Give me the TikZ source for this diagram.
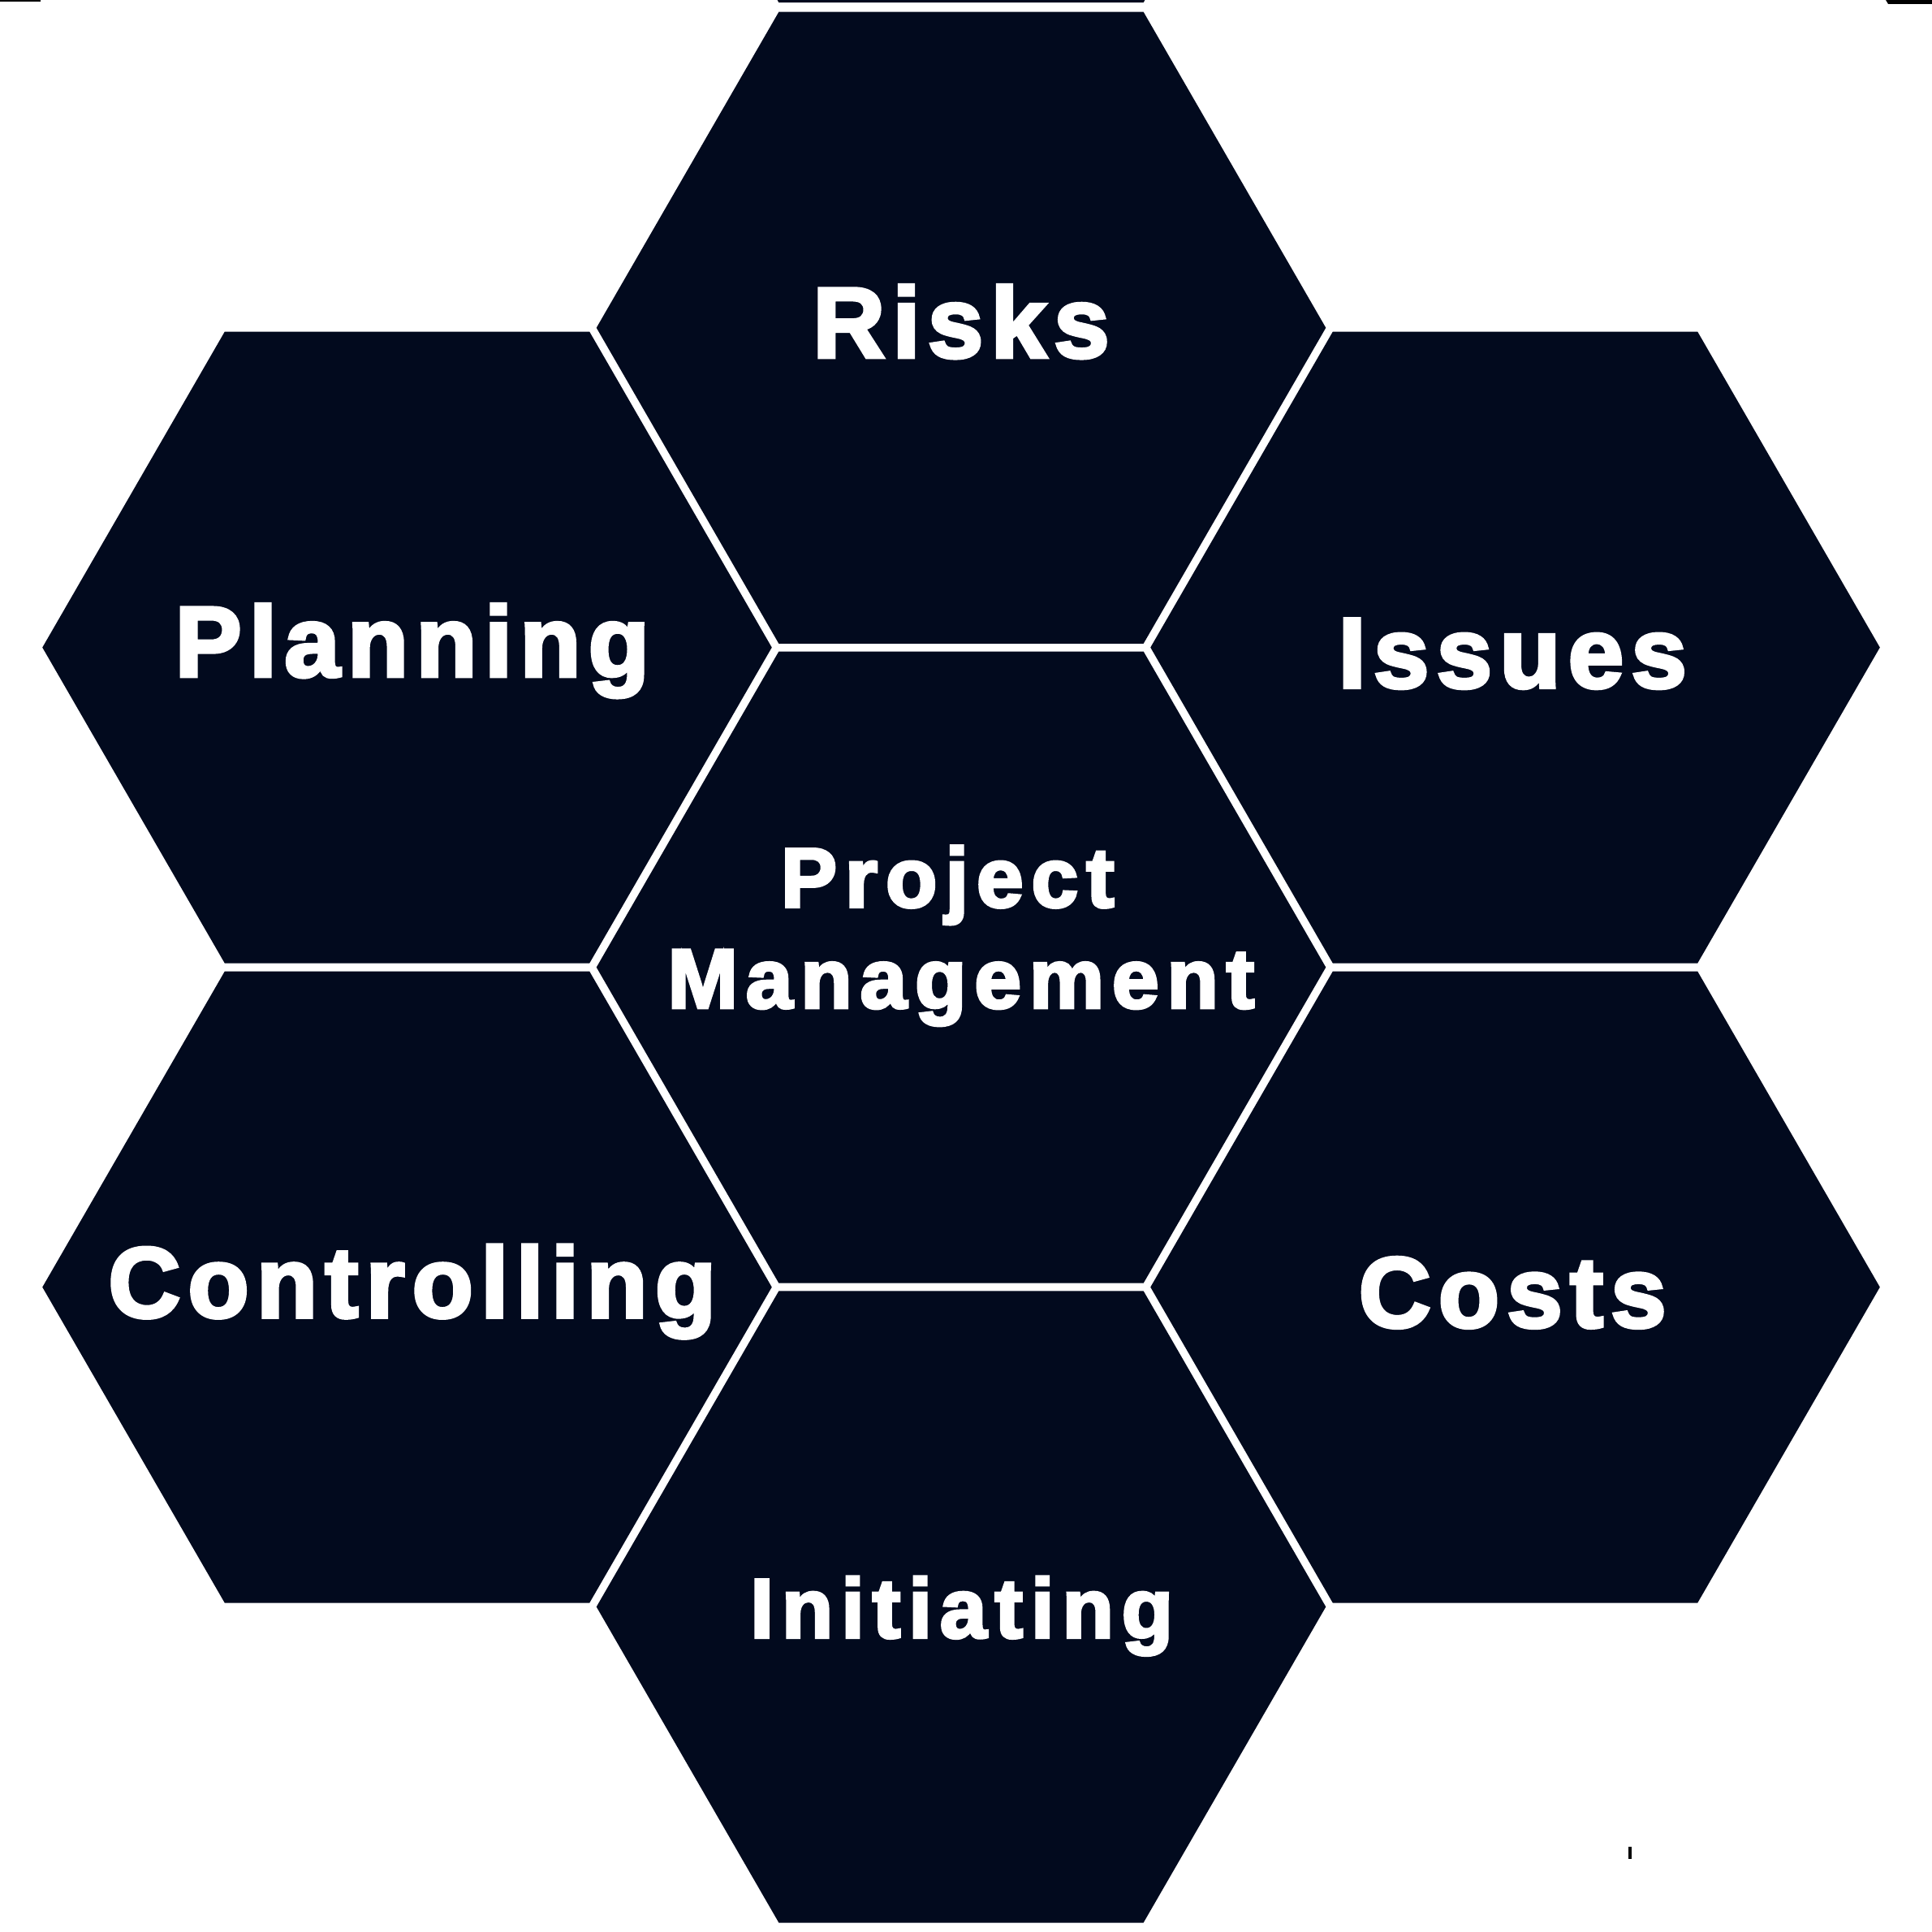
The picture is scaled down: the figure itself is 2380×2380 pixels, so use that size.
\documentclass[tikz,border=0pt]{standalone}
\usepackage{fontspec}
\usetikzlibrary{shapes.geometric}
\newfontfamily\hexfont[LetterSpace=7.5,BoldFeatures={FakeBold=3.5}]{Liberation Sans}
\newfontfamily\hexfontsmall[LetterSpace=9.5,BoldFeatures={FakeBold=3.5}]{Liberation Sans}
\definecolor{hexnavy}{RGB}{2,10,30}
\tikzset{
  hexcell/.style={regular polygon, regular polygon sides=6, minimum size=8.98cm, inner sep=0pt, fill=hexnavy, draw=none},
  biglabel/.style={anchor=base, inner sep=0pt, text=white, font=\hexfont\bfseries\fontsize{35}{40}\selectfont},
  smalllabel/.style={anchor=base, inner sep=0pt, text=white, font=\hexfontsmall\bfseries\fontsize{29.5}{34}\selectfont},
  sliver/.style={fill=black, draw=none}
}
\begin{document}
\begin{tikzpicture}[x=0.01cm,y=-0.01cm]
\path[use as bounding box, fill=white] (0,0) rectangle (2380,2380);
\clip (0,0) rectangle (2380,2380);
% hexagons
\node[hexcell] (hcenter) at (1184,1191.6) {};
\node[hexcell] (hrisks) at (1184,403.8) {};
\node[hexcell] (hinit) at (1184,1979.4) {};
\node[hexcell] (hplan) at (501.5,797.6) {};
\node[hexcell] (hctrl) at (501.5,1585.6) {};
\node[hexcell] (hissues) at (1866.5,797.6) {};
\node[hexcell] (hcosts) at (1866.5,1585.6) {};
\node[hexcell] (htop) at (1184,-386) {};
% slivers
\fill[sliver] (0,0) rectangle (50,2.5);
\fill[sliver] (2323,0) -- (2380,0) -- (2380,5) -- (2326,5) -- cycle;
\fill[sliver] (2006,2275) rectangle (2010,2290);
% labels
\node[biglabel] (trisks) at (1184,440.2) {Risks};
\node[biglabel] (tplan) at (507.7,833.3) {Planning};
\node[biglabel] (tissues) at (1863.2,847.0) {Issues};
\node[biglabel] (tctrl) at (507.7,1622.6) {Controlling};
\node[biglabel] (tcosts) at (1863.2,1634.8) {Costs};
\node[smalllabel] (tinit) at (1184.7,2017.3) {Initiating};
\node[smalllabel] (tproj) at (1167.3,1117.2) {Project};
\node[smalllabel] (tmgmt) at (1184,1241.6) {Management};
\end{tikzpicture}
\end{document}
